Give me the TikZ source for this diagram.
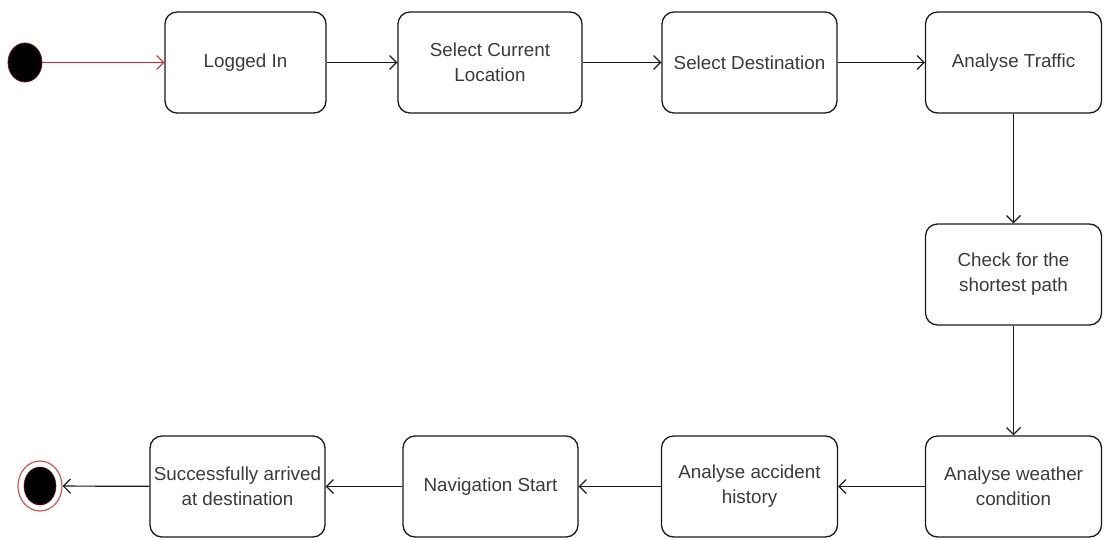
\documentclass[tikz,border=0pt]{standalone}
\usepackage{fontspec}
\setmainfont{Liberation Sans}
\usetikzlibrary{arrows.meta,shapes.geometric}
\definecolor{txtgray}{HTML}{3A3A3A}
\definecolor{edge}{HTML}{1A1A1A}
\definecolor{flowred}{HTML}{C8282A}
\begin{document}
\begin{tikzpicture}[x=1pt,y=-1pt,
  state/.style={draw=edge, line width=1.3pt, rounded corners=12pt, fill=white,
    minimum height=101pt, inner sep=0pt, align=center, text=txtgray,
    font=\fontsize{18.8}{25}\selectfont},
  flow/.style={draw=edge, line width=1.2pt, -{Straight Barb[length=7pt,width=14pt,line width=1.2pt]}},
  startflow/.style={draw=flowred, line width=1pt, -{Straight Barb[length=7pt,width=14pt,line width=1pt]}}]
\useasboundingbox (0,0) rectangle (1105,539);
\fill[white] (0,0) rectangle (1105,539);

% initial and final pseudo-states
\node[ellipse, fill=black, draw=flowred!55!black, line width=0.8pt,
  minimum width=34pt, minimum height=39pt, inner sep=0pt] (init) at (25,62.5) {};
\node[ellipse, draw=flowred!80!white, line width=1.2pt, fill=white,
  minimum width=44pt, minimum height=50pt, inner sep=0pt] (final) at (40,486) {};
\node[ellipse, fill=black, draw=flowred!50!black, line width=0.6pt,
  minimum width=32pt, minimum height=38pt, inner sep=0pt] (finalcore) at (40,486) {};

% activity states
\node[state, minimum width=161pt] (login) at (245.5,62.5) {Logged In};
\node[state, minimum width=184pt] (curloc) at (490,62.5) {Select Current\\Location};
\node[state, minimum width=175pt] (dest) at (749.5,62.5) {Select Destination};
\node[state, minimum width=176pt] (traffic) at (1013.5,62.5) {Analyse Traffic};
\node[state, minimum width=176pt] (shortest) at (1013.5,274.5) {Check for the\\shortest path};
\node[state, minimum width=176pt] (weather) at (1013.5,486.5) {Analyse weather\\condition};
\node[state, minimum width=176pt] (accident) at (749.5,486.5) {Analyse accident\\history};
\node[state, minimum width=175pt] (navstart) at (490.5,486.5) {Navigation Start};
\node[state, minimum width=175pt] (arrived) at (237.5,486.5) {Successfully arrived\\at destination};

% transitions
\draw[startflow] (init) -- (login);
\draw[flow] (login) -- (curloc);
\draw[flow] (curloc) -- (dest);
\draw[flow] (dest) -- (traffic);
\draw[flow] (traffic) -- (shortest);
\draw[flow] (shortest) -- (weather);
\draw[flow] (weather) -- (accident);
\draw[flow] (accident) -- (navstart);
\draw[flow] (navstart) -- (arrived);
\draw[flow] (arrived) -- (final);
\end{tikzpicture}
\end{document}
